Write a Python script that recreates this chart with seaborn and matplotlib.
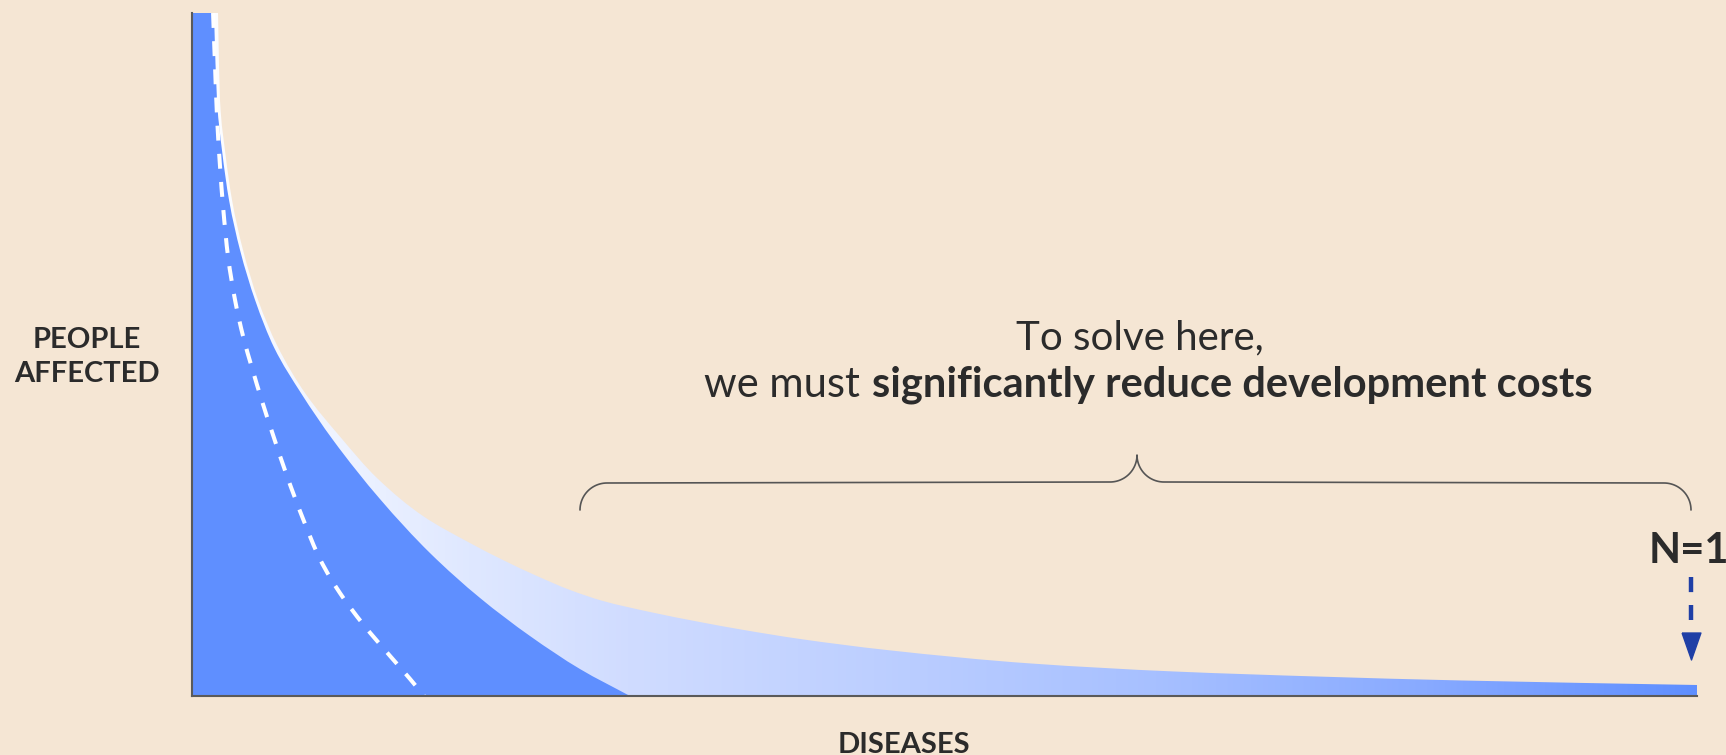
import numpy as np
import matplotlib
matplotlib.use("Agg")
import matplotlib.pyplot as plt
import matplotlib.transforms as mtransforms
from matplotlib.colors import LinearSegmentedColormap
from matplotlib.path import Path
from matplotlib.patches import PathPatch
from matplotlib.markers import MarkerStyle
import seaborn as sns

# ---------------- data (x = diseases %, y = people affected %) ----
tail_x = [0, 1.73, 1.86, 2.19, 2.66, 3.39, 4.39, 5.65, 7.51, 9.83, 12.29, 15.35, 18.47,
          20.66, 22.92, 25.12, 27.31, 30.43, 33.75, 36.68, 40.40, 46.18, 55.75, 65.25,
          74.82, 84.39, 100]
tail_y = [100, 100, 87.26, 79.94, 72.62, 65.30, 57.98, 51.35, 44.36, 37.99, 31.92, 26.35,
          22.40, 19.91, 17.57, 15.52, 13.91, 12.30, 10.83, 9.66, 8.35, 6.73, 4.76, 3.59,
          2.85, 2.27, 1.61]

head_x = [0, 1.46, 1.66, 1.99, 2.46, 3.19, 4.19, 5.45, 7.24, 9.37, 12.49, 15.81, 19.14,
          22.46, 25.78, 29.10]
head_y = [100, 100, 87.26, 79.94, 72.62, 65.30, 57.98, 51.04, 44.36, 37.48, 28.84, 20.94,
          14.35, 8.78, 3.95, 0]

dash_x = [1.40, 1.53, 1.66, 1.86, 2.06, 2.39, 2.86, 3.39, 3.99, 4.65, 5.32, 6.31, 7.38,
          8.50, 9.83, 11.36, 13.16, 14.49, 15.42]
dash_y = [100, 92.24, 84.92, 77.60, 71.74, 64.42, 57.98, 52.71, 48.02, 43.19, 38.65, 32.21,
          25.92, 20.06, 15.08, 10.54, 5.86, 2.49, 0]

x_label = "DISEASES"
y_label = ["PEOPLE", "AFFECTED"]
title_line1 = "To solve here,"
title_line2_light = "we must"
title_line2_bold = "significantly reduce development costs"
n1_label = "N=1"
n1_x = [99.6, 99.6]
n1_arrow_y = [17.4, 11.1]
n1_head_y = 7.25

# gradient stops of the long-tail fill (position, colour)
grad_stops = [(0.0, "#ffffff"), (0.184, "#dfe8ff"), (0.29, "#d0dcff"),
              (0.64, "#a7c0ff"), (0.82, "#88aaff"), (1.0, "#5f8fff")]

BG = "#F5E6D4"
BLUE = "#5F8FFF"
DARK = "#2B2B2B"
AXIS = "#5A5A5A"
ARROW = "#1F3FA6"

sns.set_theme(style="white", rc={"axes.facecolor": BG, "figure.facecolor": BG})
plt.rcParams['font.family'] = ['Lato', 'DejaVu Sans']

W, H, DPI = 1726, 755, 100
fig = plt.figure(figsize=(W / DPI, H / DPI), dpi=DPI, facecolor=BG)
ax = fig.add_axes([192 / W, (H - 696) / H, (1697 - 192) / W, (696 - 13) / H])
ax.set_facecolor(BG)
ax.set_xlim(0, 100)
ax.set_ylim(0, 100)


def smooth_segments(xs, ys):
    """Monotone cubic (Fritsch-Carlson) curve through the points as Bezier segments."""
    xs = np.asarray(xs, float)
    ys = np.asarray(ys, float)
    h = np.diff(xs)
    d = np.diff(ys) / h
    n = len(xs)
    m = np.zeros(n)
    m[0], m[-1] = d[0], d[-1]
    for k in range(1, n - 1):
        if d[k - 1] * d[k] <= 0:
            m[k] = 0.0
        else:
            w1 = 2 * h[k] + h[k - 1]
            w2 = h[k] + 2 * h[k - 1]
            m[k] = (w1 + w2) / (w1 / d[k - 1] + w2 / d[k])
    verts, codes = [], []
    for k in range(n - 1):
        verts += [(xs[k] + h[k] / 3, ys[k] + m[k] * h[k] / 3),
                  (xs[k + 1] - h[k] / 3, ys[k + 1] - m[k + 1] * h[k] / 3),
                  (xs[k + 1], ys[k + 1])]
        codes += [Path.CURVE4] * 3
    return verts, codes


def area_path(xs, ys):
    verts = [(xs[0], 0), (xs[0], ys[0]), (xs[1], ys[1])]
    codes = [Path.MOVETO, Path.LINETO, Path.LINETO]
    v, c = smooth_segments(xs[1:], ys[1:])
    verts += v + [(xs[-1], 0), (xs[0], 0)]
    codes += c + [Path.LINETO, Path.CLOSEPOLY]
    return Path(verts, codes)


def line_path(xs, ys):
    v, c = smooth_segments(xs, ys)
    return Path([(xs[0], ys[0])] + v, [Path.MOVETO] + c)


# long tail with horizontal gradient
cmap = LinearSegmentedColormap.from_list("tail", grad_stops)
tail_patch = PathPatch(area_path(tail_x, tail_y), facecolor="none", lw=0,
                       transform=ax.transData)
ax.add_patch(tail_patch)
grad = np.linspace(0, 1, 1024).reshape(1, -1)
im = ax.imshow(grad, extent=[0, 100, 0, 100], aspect="auto", cmap=cmap,
               origin="lower", zorder=1, interpolation="bilinear")
im.set_clip_path(tail_patch)

# head (solid blue)
ax.add_patch(PathPatch(area_path(head_x, head_y), facecolor=BLUE, lw=0, zorder=2,
                       transform=ax.transData))

# dashed white curve
ax.add_patch(PathPatch(line_path(dash_x, dash_y), fill=False, edgecolor="white", lw=2.9,
                       linestyle=(0, (3.7, 3.3)), zorder=3, transform=ax.transData))

for s in ["top", "right"]:
    ax.spines[s].set_visible(False)
for s in ["left", "bottom"]:
    ax.spines[s].set_color(AXIS)
    ax.spines[s].set_linewidth(1.5)
    ax.spines[s].set_zorder(5)
ax.set_xticks([])
ax.set_yticks([])

# N=1 arrow
sns.lineplot(x=n1_x, y=n1_arrow_y, ax=ax, color=ARROW, linewidth=3.2, sort=False,
             estimator=None, errorbar=None, linestyle=(0, (3.4, 2.9)),
             clip_on=False, zorder=6)
tri = MarkerStyle(Path([(-0.35, 0.5), (0.35, 0.5), (0, -0.5), (-0.35, 0.5)]))
ax.plot([n1_x[0]], [n1_head_y], marker=tri, markersize=19.4, color=ARROW, lw=0,
        clip_on=False, zorder=6)
ax.set_xlabel("")
ax.set_ylabel("")


def fx(x):
    return x / W


def fy(y):
    return 1 - y / H


fig.text(fx(87), fy(348), y_label[0], ha="center", va="baseline", fontsize=21,
         fontweight="bold", color=DARK)
fig.text(fx(87), fy(382), y_label[1], ha="center", va="baseline", fontsize=21,
         fontweight="bold", color=DARK)
fig.text(fx(904), fy(753), x_label, ha="center", va="baseline", fontsize=21,
         fontweight="bold", color=DARK)
fig.text(fx(1689), fy(563), n1_label, ha="center", va="baseline", fontsize=30,
         fontweight="bold", color=DARK)

fig.text(fx(1140), fy(349), title_line1, ha="center", va="baseline", fontsize=29,
         fontweight="normal", color=DARK)
ta = fig.text(0, fy(397), title_line2_light, ha="left", va="baseline", fontsize=30,
              fontweight="normal", color=DARK)
tb = fig.text(0, fy(397), title_line2_bold, ha="left", va="baseline", fontsize=30,
              fontweight="bold", color=DARK)
fig.canvas.draw()
r = fig.canvas.get_renderer()
wa = ta.get_window_extent(r).width
wb = tb.get_window_extent(r).width
gap = 12
x0 = 1148 - (wa + gap + wb) / 2
ta.set_x(fx(x0))
tb.set_x(fx(x0 + wa + gap))

# brace (pixel coordinates, y down)
T = mtransforms.Affine2D().scale(1, -1).translate(0, H).scale(1 / DPI) + fig.dpi_scale_trans


def arc(cx, cy, rad, t0, t1, n=30):
    t = np.radians(np.linspace(t0, t1, n))
    return list(zip(cx + rad * np.cos(t), cy - rad * np.sin(t)))


pts = []
pts += arc(607, 510, 27, 180, 90)
pts += arc(1110, 455, 27, 270, 360)
pts += arc(1164, 455, 27, 180, 270)
pts += arc(1664, 510, 27, 90, 0)
bx, by = zip(*pts)
fig.add_artist(plt.Line2D(bx, by, transform=T, color="#555555", lw=1.2))

fig.savefig("out.png", dpi=DPI, facecolor=BG)
